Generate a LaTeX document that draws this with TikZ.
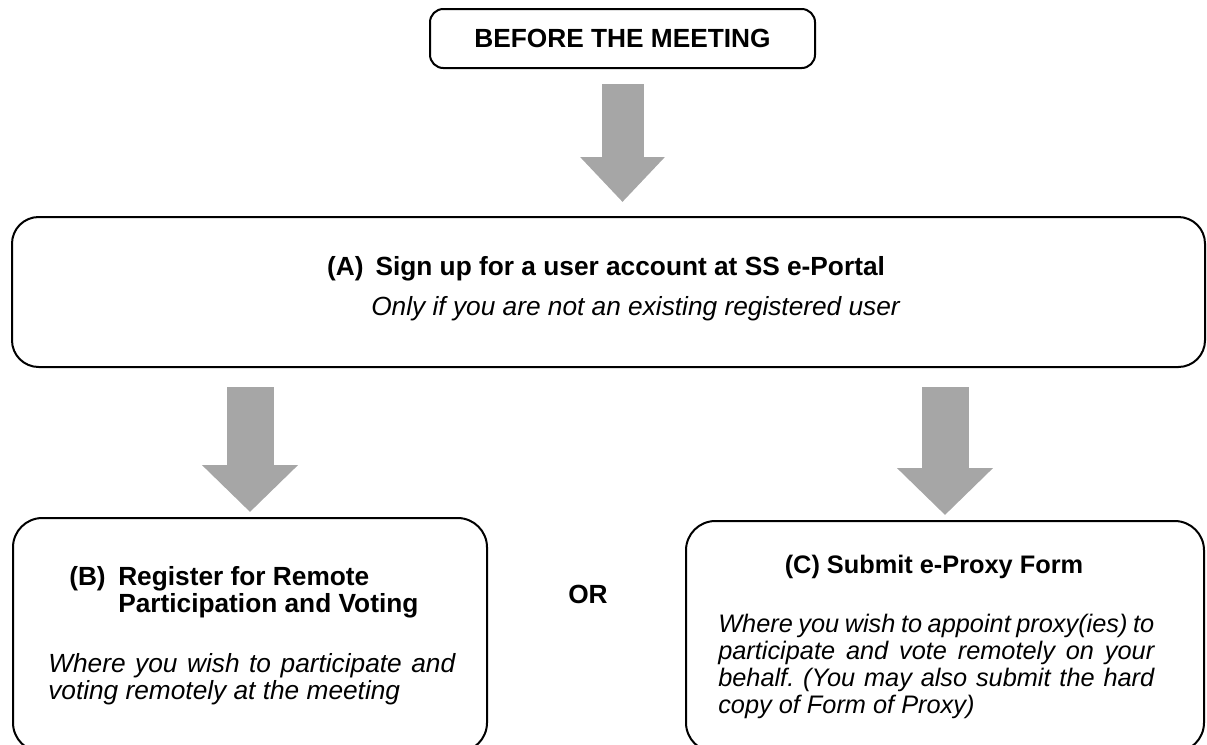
\documentclass[tikz,border=0pt]{standalone}
\usepackage{fontspec}
\setmainfont{Liberation Sans}
\usetikzlibrary{arrows.meta}
\definecolor{arrowgray}{RGB}{166,166,166}
\frenchspacing

\begin{document}
\begin{tikzpicture}[x=0.75pt, y=-0.75pt,
    every node/.style={font=\fontsize{19.7}{20.25}\selectfont},
    roundbox/.style={draw, line width=1.5pt, rounded corners=#1, inner sep=0pt},
    txt/.style={inner sep=0pt},
    ctxt/.style={inner sep=0pt, font=\fontsize{19}{20.25}\selectfont},
    toparrow/.style={draw=arrowgray, line width=31.5pt, shorten <=11.25pt, shorten >=10.5pt,
        -{Triangle[length=33.75pt, width=61.5pt]}},
    sidearrow/.style={draw=arrowgray, line width=35.25pt, shorten <=14.25pt, shorten >=3.75pt,
        -{Triangle[length=35.25pt, width=70pt]}}]

% Page
\clip (0,0) rectangle (1207,744);

% Boxes
\node[roundbox=10pt, minimum width=288.75pt, minimum height=44.25pt] (before) at (622.5,38.5) {\textbf{BEFORE THE MEETING}};
\node[roundbox=20pt, minimum width=894.75pt, minimum height=112.5pt] (signup) at (608.5,292) {};
\node[roundbox=22pt, minimum width=355.5pt, minimum height=175.5pt] (regbox) at (250,635) {};
\node[roundbox=22pt, minimum width=388.5pt, minimum height=173.25pt] (proxybox) at (945,636.5) {};

% Block arrows
\draw[toparrow] (before.south) -- (before.south |- signup.north);
\draw[sidearrow] (signup.south -| regbox.north) -- (regbox.north);
\draw[sidearrow] (signup.south -| proxybox.north) -- (proxybox.north);

% (A) Sign up
\node[txt, anchor=base] (atitle) at (606,275) {\textbf{(A)\hspace{9pt}Sign up for a user account at SS e-Portal}};
\node[txt, anchor=base] (anote) at (636,315) {\textit{Only if you are not an existing registered user}};

% (B) Register
\node[txt, anchor=base west] (blabel) at (69,585) {\textbf{(B)}};
\node[txt, anchor=base west] (btitle1) at (118,585) {\textbf{Register for Remote}};
\node[txt, anchor=base west] (btitle2) at (118,612) {\textbf{Participation and Voting}};
\node[txt, anchor=base west] (bnote1) at (48,672) {\textit{\makebox[305.25pt][s]{Where you wish to participate and}}};
\node[txt, anchor=base west] (bnote2) at (48,699) {\textit{voting remotely at the meeting}};

% OR
\node[txt, anchor=base] (or) at (588,603) {\textbf{OR}};

% (C) Submit e-Proxy
\node[ctxt, anchor=base] (ctitle) at (934,573) {\textbf{(C) Submit e-Proxy Form}};
\foreach \txt [count=\i] in {Where you wish to appoint proxy(ies) to, participate and vote remotely on your, behalf. (You may also submit the hard}
    \node[ctxt, anchor=base west] (cnote\i) at (718,605+27*\i) {\textit{\makebox[327pt][s]{\spaceskip=0.2em plus 1fil\relax\txt}}};
\node[ctxt, anchor=base west] (cnote4) at (718,713) {\textit{copy of Form of Proxy)}};

\end{tikzpicture}
\end{document}
